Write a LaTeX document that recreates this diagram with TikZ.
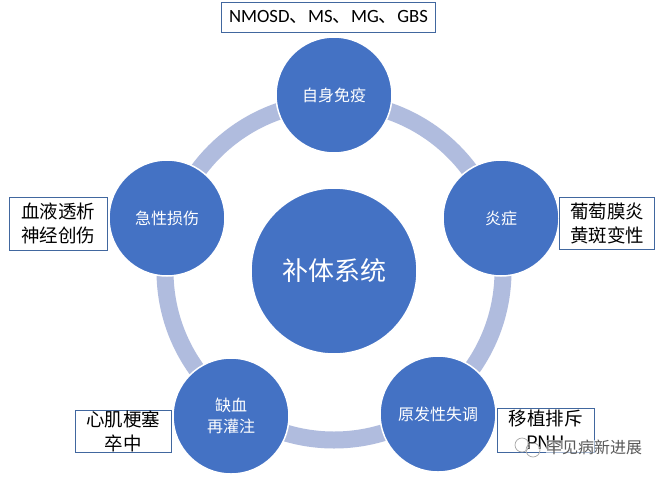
\documentclass[tikz,border=0pt]{standalone}
\usepackage{fontspec}
\setmainfont{Noto Sans CJK SC}
\newfontfamily\latfont{Carlito}
\definecolor{blueC}{HTML}{4472C4}
\definecolor{ringC}{HTML}{B0BCDE}
\definecolor{boxC}{HTML}{41679F}
\begin{document}
\begin{tikzpicture}[x=1pt,y=-1pt,
  hub/.style={circle,fill=blueC,draw=white,line width=1.5pt,minimum size=116pt,inner sep=0pt,text=white,font=\fontsize{16}{21}\selectfont,align=center},
  core/.style={circle,fill=blueC,draw=white,line width=1.5pt,minimum size=166pt,inner sep=0pt,text=white,font=\fontsize{26}{32}\selectfont},
  tag/.style={draw=boxC,line width=0.9pt,fill=white,inner sep=0pt,align=center,text=black,font=\fontsize{18.5}{24}\selectfont},
  ring/.style={draw=ringC,line width=17pt},
  wmark/.style={text=gray!70!black,font=\fontsize{16}{18}\selectfont,fill=white,fill opacity=0.55,text opacity=1,inner sep=0pt}]
\useasboundingbox (0,0) rectangle (664,477);
\fill[white] (0,0) rectangle (664,477);
\coordinate (ctr) at (334,271);
\draw[ring] (ctr) circle (169);
\node[core] (c) at (ctr) {补体系统};
\node[hub] (a) at (334,95) {自身免疫};
\node[hub] (b) at (501,218) {炎症};
\node[hub] (d) at (438,414) {原发性失调};
\node[hub] (e) at (231,416) {缺血\\再灌注};
\node[hub] (f) at (167,218) {急性损伤};
\node[tag,minimum width=214pt,minimum height=30pt] (ta) at (328.5,17) {{\latfont\fontsize{18.7}{24}\selectfont NMOSD}、{\latfont\fontsize{18.7}{24}\selectfont MS}、{\latfont\fontsize{18.7}{24}\selectfont MG}、{\latfont\fontsize{18.7}{24}\selectfont GBS}};
\node[tag,minimum width=95pt,minimum height=52pt] (tb) at (607,223) {葡萄膜炎\\黄斑变性};
\node[tag,minimum width=97pt,minimum height=44pt] (td) at (545.5,430) {移植排斥\\PNH};
\node[tag,minimum width=96pt,minimum height=42pt] (te) at (123,431) {心肌梗塞\\卒中};
\node[tag,minimum width=98pt,minimum height=53pt] (tf) at (58,223.5) {血液透析\\神经创伤};
\node[wmark,anchor=west] (w) at (546,447) {罕见病新进展};
\draw[gray!70,line width=0.7pt] (522,445) circle (7);
\draw[gray!70,line width=0.7pt] (533,450) circle (7);
\end{tikzpicture}
\end{document}
